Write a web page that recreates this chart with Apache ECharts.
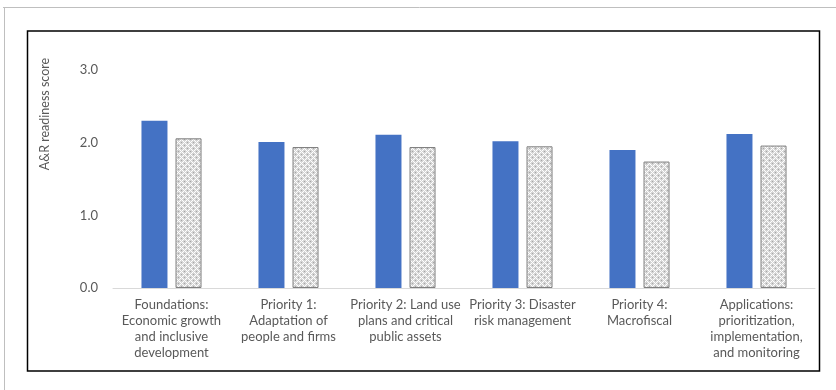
<!DOCTYPE html>
<html>
<head>
<meta charset="utf-8">
<script src="https://cdn.jsdelivr.net/npm/echarts@6/dist/echarts.min.js"></script>
<style>
  html, body { margin: 0; padding: 0; background: #fff; }
  #chart { width: 836px; height: 390px; }
</style>
</head>
<body>
<div id="chart"></div>
<script>
// Pillar categories shown along the x axis
const categories = [
  'Foundations:\nEconomic growth\nand inclusive\ndevelopment',
  'Priority 1:\nAdaptation of\npeople and firms',
  'Priority 2: Land use\nplans and critical\npublic assets',
  'Priority 3: Disaster\nrisk management',
  'Priority 4:\nMacrofiscal',
  'Applications:\nprioritization,\nimplementation,\nand monitoring'
];
// Readiness scores, solid series and hatched series
const solidScores = [2.30, 2.01, 2.11, 2.02, 1.90, 2.12];
const hatchedScores = [2.06, 1.94, 1.94, 1.95, 1.74, 1.96];
// Y axis ticks and title
const yTicks = [0, 1, 2, 3];
const yTitle = 'A&R readiness score';

// Small tiled canvas giving the grey lattice fill
function makeLattice() {
  const c = document.createElement('canvas');
  c.width = 6; c.height = 6;
  const g = c.getContext('2d');
  g.fillStyle = '#d4d4d4';
  g.fillRect(0, 0, 6, 6);
  g.fillStyle = '#ffffff';
  [[0,0],[2,0],[1,1],[0,2],[2,2],[3,3],[5,3],[4,4],[3,5],[5,5]].forEach(p => g.fillRect(p[0], p[1], 1, 1));
  g.fillStyle = '#a6a6a6';
  [[4,1],[1,4]].forEach(p => g.fillRect(p[0], p[1], 1, 1));
  return c;
}

const chart = echarts.init(document.getElementById('chart'), null, { renderer: 'canvas' });
const textColor = '#595959';
const font = 'Lato, "Liberation Sans", sans-serif';

chart.setOption({
  animation: false,
  backgroundColor: '#ffffff',
  graphic: [
    { type: 'line', shape: { x1: 3, y1: 7.5, x2: 836, y2: 7.5 }, style: { stroke: '#bfbfbf', lineWidth: 1 } },
    { type: 'line', shape: { x1: 4.5, y1: 7, x2: 4.5, y2: 390 }, style: { stroke: '#bfbfbf', lineWidth: 1 } },
    { type: 'rect', shape: { x: 27.5, y: 31, width: 792, height: 340 }, style: { fill: 'none', stroke: '#000000', lineWidth: 1.5 } },
    {
      type: 'text',
      x: 45, y: 114,
      rotation: Math.PI / 2,
      style: {
        text: yTitle,
        fill: textColor,
        font: '12.5px ' + font,
        align: 'center',
        verticalAlign: 'middle'
      }
    }
  ],
  grid: { left: 113, right: 21, top: 70, bottom: 102, containLabel: false },
  xAxis: {
    type: 'category',
    data: categories,
    axisLine: { show: true, lineStyle: { color: '#d9d9d9', width: 1 } },
    axisTick: { show: false },
    axisLabel: {
      interval: 0,
      color: textColor,
      fontFamily: font,
      fontSize: 13,
      lineHeight: 16,
      margin: 9,
      align: 'center'
    }
  },
  yAxis: {
    type: 'value',
    min: yTicks[0],
    max: yTicks[yTicks.length - 1],
    interval: 1,
    axisLine: { show: false },
    axisTick: { show: false },
    splitLine: { show: false },
    axisLabel: {
      color: textColor,
      fontFamily: font,
      fontSize: 13,
      margin: 15,
      formatter: v => v.toFixed(1)
    }
  },
  series: [
    {
      name: 'Series 1',
      type: 'bar',
      data: solidScores,
      barWidth: 26,
      barGap: '31%',
      itemStyle: { color: '#4472c4' }
    },
    {
      name: 'Series 2',
      type: 'bar',
      data: hatchedScores,
      barWidth: 26,
      itemStyle: {
        color: { image: makeLattice(), repeat: 'repeat' },
        borderColor: '#7f7f7f',
        borderWidth: 1
      }
    }
  ]
});
</script>
</body>
</html>
